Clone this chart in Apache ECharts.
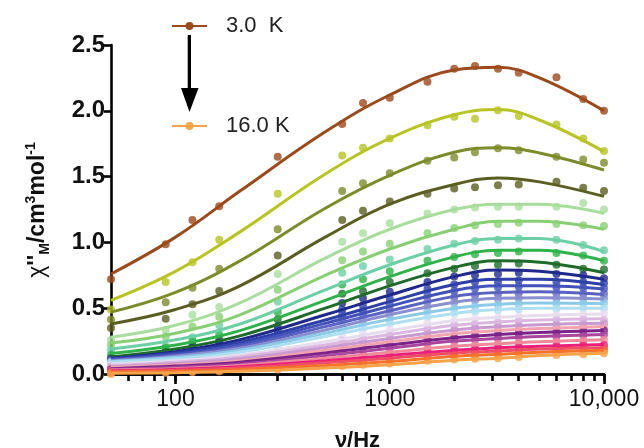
<!DOCTYPE html>
<html>
<head>
<meta charset="utf-8">
<script src="https://cdn.jsdelivr.net/npm/echarts@6/dist/echarts.min.js"></script>
<style>
html,body{margin:0;padding:0;background:#fff}
#main{width:644px;height:448px}
</style>
</head>
<body>
<div id="main"></div>
<script>
// measured frequencies (Hz) and the fit-curve sampling frequencies
var freqs = [50, 90, 120, 160, 300, 600, 750, 1000, 1500, 2000, 2500, 3200, 4000, 6000, 8000, 10000];
var fitFreqs = [50, 100, 200, 500, 1000, 2000, 3200, 5000, 10000];
var temps = ['3.0', '3.5', '4.0', '4.5', '5.0', '5.5', '6.0', '6.5', '7.0', '7.5', '8.0', '8.5', '9.0', '9.5',
             '10.0', '10.5', '11.0', '11.5', '12.0', '12.5', '13.0', '13.5', '14.0', '14.5', '15.0', '15.5', '16.0'];
var colors = ['#9b4a1b', '#b8c424', '#7d8b2b', '#5b5e22', '#a9dd9d', '#88cf74', '#6ccfa6', '#2fb24a', '#1e6b2c',
              '#202a8c', '#2e3fa8', '#4252b8', '#5b63c2', '#8a8fd0', '#8ccbe8', '#b0dff2', '#e8dcef', '#dcb8e0',
              '#c99ad0', '#f2a3b0', '#7b2388', '#a9479e', '#ef8a9a', '#e8207a', '#f04e64', '#f5722d', '#f7a34a'];

// chi'' data points, one row per temperature, one value per freqs entry
var points = [
  [0.72, 0.985, 1.17, 1.275, 1.65, 1.90, 2.06, 2.10, 2.22, 2.32, 2.34, 2.32, 2.29, 2.255, 2.09, 2.00],
  [0.49, 0.70, 0.85, 1.02, 1.37, 1.66, 1.72, 1.79, 1.89, 1.955, 1.94, 2.005, 1.96, 1.895, 1.79, 1.695],
  [0.415, 0.545, 0.655, 0.80, 1.10, 1.39, 1.45, 1.525, 1.62, 1.645, 1.685, 1.715, 1.70, 1.65, 1.63, 1.605],
  [0.35, 0.42, 0.53, 0.63, 0.90, 1.17, 1.24, 1.31, 1.37, 1.41, 1.42, 1.435, 1.44, 1.46, 1.415, 1.39],
  [0.26, 0.335, 0.45, 0.51, 0.76, 1.005, 1.07, 1.145, 1.22, 1.25, 1.265, 1.27, 1.27, 1.27, 1.30, 1.25],
  [0.22, 0.285, 0.36, 0.435, 0.64, 0.865, 0.93, 0.99, 1.07, 1.11, 1.13, 1.14, 1.15, 1.14, 1.13, 1.125],
  [0.18, 0.21, 0.28, 0.37, 0.55, 0.77, 0.82, 0.87, 0.95, 0.99, 1.01, 1.02, 1.03, 1.02, 0.98, 0.94],
  [0.145, 0.20, 0.25, 0.30, 0.47, 0.68, 0.72, 0.78, 0.86, 0.89, 0.91, 0.92, 0.93, 0.92, 0.90, 0.86],
  [0.12, 0.17, 0.22, 0.26, 0.415, 0.61, 0.63, 0.70, 0.765, 0.80, 0.82, 0.83, 0.84, 0.83, 0.80, 0.795],
  [0.11, 0.16, 0.20, 0.24, 0.36, 0.54, 0.575, 0.625, 0.70, 0.74, 0.75, 0.76, 0.77, 0.76, 0.75, 0.727],
  [0.11, 0.15, 0.185, 0.22, 0.33, 0.49, 0.52, 0.57, 0.645, 0.68, 0.70, 0.70, 0.71, 0.70, 0.70, 0.69],
  [0.105, 0.14, 0.17, 0.205, 0.30, 0.455, 0.48, 0.53, 0.60, 0.63, 0.65, 0.66, 0.665, 0.66, 0.655, 0.65],
  [0.10, 0.13, 0.16, 0.19, 0.275, 0.42, 0.45, 0.49, 0.555, 0.585, 0.60, 0.61, 0.615, 0.615, 0.61, 0.61],
  [0.095, 0.125, 0.15, 0.18, 0.255, 0.39, 0.415, 0.455, 0.515, 0.545, 0.56, 0.57, 0.575, 0.575, 0.575, 0.575],
  [0.09, 0.12, 0.14, 0.165, 0.235, 0.36, 0.385, 0.42, 0.475, 0.50, 0.515, 0.525, 0.53, 0.535, 0.54, 0.54],
  [0.085, 0.11, 0.13, 0.15, 0.215, 0.33, 0.35, 0.385, 0.435, 0.46, 0.475, 0.485, 0.49, 0.495, 0.50, 0.50],
  [0.07, 0.095, 0.115, 0.13, 0.185, 0.285, 0.305, 0.335, 0.385, 0.405, 0.42, 0.43, 0.435, 0.445, 0.45, 0.46],
  [0.06, 0.085, 0.10, 0.12, 0.165, 0.255, 0.275, 0.30, 0.35, 0.37, 0.38, 0.39, 0.40, 0.41, 0.415, 0.41],
  [0.05, 0.075, 0.09, 0.105, 0.15, 0.23, 0.25, 0.27, 0.315, 0.335, 0.35, 0.36, 0.365, 0.375, 0.38, 0.385],
  [0.045, 0.065, 0.08, 0.095, 0.135, 0.21, 0.225, 0.245, 0.29, 0.305, 0.32, 0.33, 0.335, 0.345, 0.355, 0.36],
  [0.035, 0.055, 0.065, 0.08, 0.12, 0.185, 0.20, 0.22, 0.26, 0.275, 0.29, 0.30, 0.31, 0.315, 0.325, 0.33],
  [0.03, 0.045, 0.055, 0.07, 0.105, 0.165, 0.18, 0.195, 0.235, 0.25, 0.26, 0.27, 0.28, 0.285, 0.295, 0.30],
  [0.025, 0.035, 0.045, 0.06, 0.09, 0.14, 0.15, 0.165, 0.20, 0.21, 0.22, 0.23, 0.24, 0.245, 0.255, 0.26],
  [0.02, 0.03, 0.04, 0.05, 0.075, 0.12, 0.13, 0.14, 0.17, 0.18, 0.19, 0.20, 0.205, 0.21, 0.22, 0.22],
  [0.015, 0.025, 0.03, 0.04, 0.065, 0.10, 0.11, 0.12, 0.15, 0.16, 0.17, 0.175, 0.185, 0.19, 0.195, 0.20],
  [0.01, 0.02, 0.025, 0.03, 0.05, 0.08, 0.09, 0.10, 0.125, 0.135, 0.145, 0.15, 0.16, 0.17, 0.175, 0.18],
  [0.0, 0.01, 0.015, 0.02, 0.035, 0.06, 0.07, 0.08, 0.10, 0.11, 0.115, 0.12, 0.13, 0.145, 0.15, 0.157]
];

// fitted curves, one value per fitFreqs entry
var fits = [
  [0.76, 1.04, 1.39, 1.84, 2.12, 2.31, 2.33, 2.25, 2.00],
  [0.56, 0.78, 1.08, 1.52, 1.79, 1.97, 2.01, 1.93, 1.69],
  [0.47, 0.62, 0.86, 1.26, 1.51, 1.685, 1.72, 1.68, 1.55],
  [0.38, 0.49, 0.67, 1.04, 1.29, 1.44, 1.49, 1.46, 1.35],
  [0.28, 0.37, 0.54, 0.88, 1.10, 1.25, 1.29, 1.29, 1.22],
  [0.235, 0.31, 0.45, 0.75, 0.95, 1.10, 1.16, 1.16, 1.10],
  [0.19, 0.26, 0.38, 0.64, 0.83, 0.98, 1.03, 1.03, 0.93],
  [0.155, 0.22, 0.33, 0.56, 0.74, 0.89, 0.94, 0.94, 0.86],
  [0.13, 0.19, 0.29, 0.50, 0.67, 0.81, 0.86, 0.85, 0.77],
  [0.12, 0.17, 0.26, 0.45, 0.60, 0.74, 0.79, 0.78, 0.72],
  [0.115, 0.16, 0.24, 0.41, 0.55, 0.68, 0.72, 0.72, 0.68],
  [0.11, 0.15, 0.225, 0.385, 0.515, 0.635, 0.67, 0.67, 0.645],
  [0.105, 0.14, 0.21, 0.36, 0.48, 0.59, 0.62, 0.625, 0.605],
  [0.10, 0.135, 0.195, 0.335, 0.45, 0.545, 0.575, 0.58, 0.57],
  [0.095, 0.125, 0.18, 0.31, 0.415, 0.50, 0.53, 0.54, 0.535],
  [0.09, 0.115, 0.165, 0.285, 0.38, 0.46, 0.49, 0.50, 0.50],
  [0.075, 0.10, 0.145, 0.245, 0.33, 0.405, 0.43, 0.445, 0.455],
  [0.065, 0.09, 0.13, 0.22, 0.30, 0.37, 0.395, 0.41, 0.42],
  [0.055, 0.08, 0.115, 0.20, 0.27, 0.335, 0.36, 0.375, 0.385],
  [0.05, 0.07, 0.10, 0.18, 0.245, 0.305, 0.33, 0.345, 0.36],
  [0.04, 0.06, 0.09, 0.16, 0.22, 0.275, 0.30, 0.315, 0.33],
  [0.035, 0.05, 0.075, 0.14, 0.195, 0.25, 0.27, 0.285, 0.30],
  [0.03, 0.04, 0.065, 0.12, 0.165, 0.21, 0.23, 0.245, 0.26],
  [0.025, 0.035, 0.055, 0.10, 0.14, 0.18, 0.20, 0.21, 0.225],
  [0.02, 0.03, 0.045, 0.085, 0.12, 0.16, 0.175, 0.19, 0.20],
  [0.015, 0.02, 0.035, 0.065, 0.095, 0.135, 0.15, 0.165, 0.18],
  [0.005, 0.01, 0.02, 0.045, 0.07, 0.105, 0.12, 0.14, 0.157]
];

var majorTicks = [100, 1000, 10000];
var allTicks = [60, 70, 80, 90, 100, 200, 300, 400, 500, 600, 700, 800, 900, 1000,
                2000, 3000, 4000, 5000, 6000, 7000, 8000, 9000, 10000];

var chart = echarts.init(document.getElementById('main'));
var font = '"Liberation Sans", Arial, sans-serif';

var series = [];
for (var i = 0; i < temps.length; i++) {
    var fitData = [];
    for (var j = 0; j < fitFreqs.length; j++) {
        fitData.push([fitFreqs[j], fits[i][j]]);
    }
    var ptData = [];
    for (var k = 0; k < freqs.length; k++) {
        ptData.push([freqs[k], points[i][k]]);
    }
    series.push({
        name: temps[i] + ' K',
        type: 'line',
        data: fitData,
        smooth: 0.4,
        symbol: 'circle',
        symbolSize: 6,
        showSymbol: false,
        silent: true,
        lineStyle: { width: 3, color: colors[i] },
        itemStyle: { color: colors[i] }
    });
    series.push({
        name: temps[i] + ' K pts',
        type: 'scatter',
        data: ptData,
        symbolSize: 8,
        silent: true,
        itemStyle: { color: colors[i] }
    });
}

var option = {
    backgroundColor: '#ffffff',
    animation: false,
    grid: { left: 111, right: 40, top: 45, bottom: 74, outerBoundsMode: 'none' },
    legend: [
        {
            data: ['3.0 K'], left: 171, top: 15, padding: 0,
            itemWidth: 35, itemHeight: 10,
            formatter: function (n) { return '3.0  K'; },
            textStyle: { fontSize: 22, color: '#222', fontFamily: font, padding: [0, 0, 0, 14] }
        },
        {
            data: ['16.0 K'], left: 171, top: 115, padding: 0,
            itemWidth: 35, itemHeight: 10,
            textStyle: { fontSize: 22, color: '#222', fontFamily: font, padding: [0, 0, 0, 14] }
        }
    ],
    xAxis: [
        {
            type: 'log', logBase: 10, min: 50, max: 10000,
            name: 'ν/Hz', nameLocation: 'middle', nameGap: 56,
            nameTextStyle: { fontSize: 22, fontWeight: 'bold', color: '#111', fontFamily: font },
            axisLine: { onZero: false, lineStyle: { color: '#000', width: 2.6 } },
            axisTick: { show: true, customValues: allTicks, length: 7, lineStyle: { color: '#000', width: 2.6 } },
            axisLabel: {
                customValues: majorTicks, margin: 14, fontSize: 23, color: '#111', fontFamily: font,
                formatter: function (v) { return v === 10000 ? '10,000' : String(v); }
            },
            splitLine: { show: false }
        },
        {
            // second copy of the axis only for the longer decade ticks
            type: 'log', logBase: 10, min: 50, max: 10000, position: 'bottom',
            axisLine: { show: true, onZero: false, lineStyle: { color: '#000', width: 2.6 } },
            axisTick: { show: true, customValues: majorTicks, length: 10, lineStyle: { color: '#000', width: 2.6 } },
            axisLabel: { show: false },
            splitLine: { show: false }
        }
    ],
    yAxis: {
        type: 'value', min: 0, max: 2.5, interval: 0.5,
        axisLine: { show: true, lineStyle: { color: '#000', width: 2.6 } },
        axisTick: { show: true, length: 7, lineStyle: { color: '#000', width: 2.6 } },
        axisLabel: {
            margin: 6, fontSize: 24, fontWeight: 'bold', color: '#111', fontFamily: font,
            formatter: function (v) { return v.toFixed(1); }
        },
        splitLine: { show: false }
    },
    graphic: [
        { type: 'rect', shape: { x: 187.7, y: 35, width: 3.3, height: 56 }, style: { fill: '#000' } },
        { type: 'polygon', shape: { points: [[181, 88], [198.5, 88], [189.5, 112]] }, style: { fill: '#000' } },
        {
            type: 'text', x: 38, y: 210, rotation: Math.PI / 2,
            style: {
                text: '{g|χ}{b|\'\'}{s|M}{b|/cm}{p|3}{b|mol}{p|-1}',
                align: 'center', verticalAlign: 'middle',
                rich: {
                    g: { fontSize: 23, fontFamily: font, fill: '#111', lineHeight: 28 },
                    b: { fontSize: 23, fontWeight: 'bold', fontFamily: font, fill: '#111', lineHeight: 28 },
                    s: { fontSize: 14, fontWeight: 'bold', fontFamily: font, fill: '#111', lineHeight: 28, verticalAlign: 'bottom' },
                    p: { fontSize: 14, fontWeight: 'bold', fontFamily: font, fill: '#111', lineHeight: 28, verticalAlign: 'top' }
                }
            }
        }
    ],
    series: series
};

chart.setOption(option);
</script>
</body>
</html>
